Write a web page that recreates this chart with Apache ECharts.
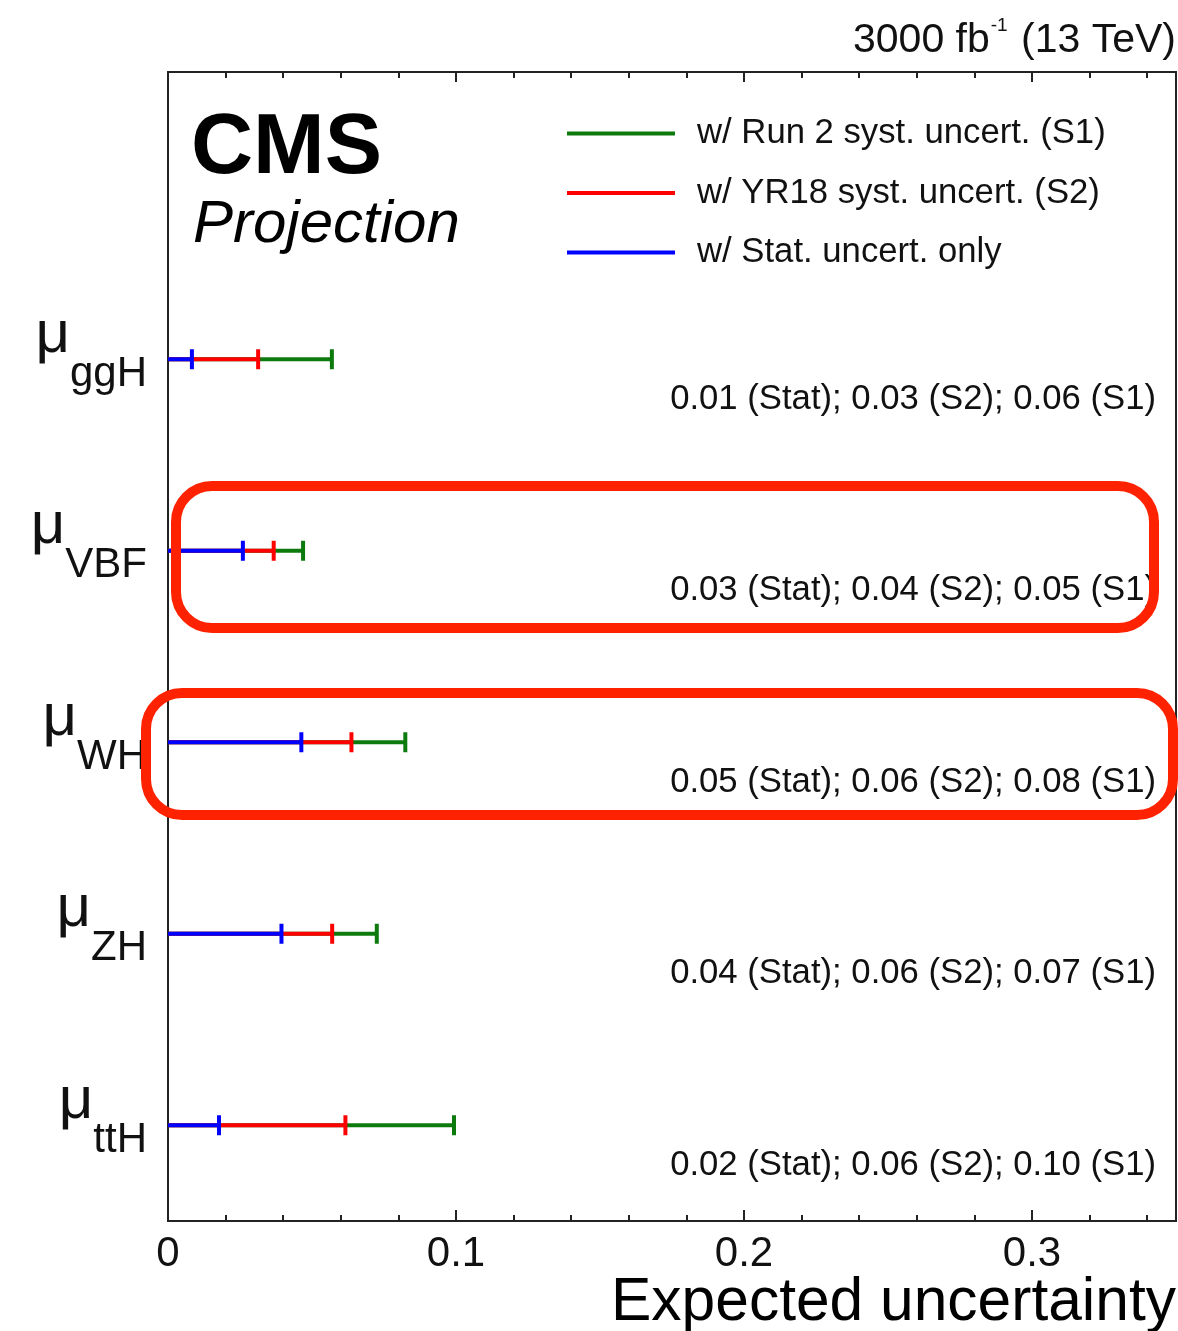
<!DOCTYPE html>
<html><head><meta charset="utf-8">
<script src="https://cdn.jsdelivr.net/npm/echarts@6/dist/echarts.min.js"></script>
<style>html,body{margin:0;padding:0;background:#fff}#c{width:1178px;height:1331px}</style>
</head><body><div id="c"></div>
<script>
// ---- data ----
const categories = ['ggH', 'VBF', 'WH', 'ZH', 'ttH'];
const statUnc = [0.0083, 0.0260, 0.0463, 0.0394, 0.0177];
const s2Unc   = [0.0313, 0.0367, 0.0637, 0.0570, 0.0616];
const s1Unc   = [0.0569, 0.0469, 0.0824, 0.0725, 0.0993];
const statText = ['0.01', '0.03', '0.05', '0.04', '0.02'];
const s2Text   = ['0.03', '0.04', '0.06', '0.06', '0.06'];
const s1Text   = ['0.06', '0.05', '0.08', '0.07', '0.10'];
const xTickLabels = ['0', '0.1', '0.2', '0.3'];
const seriesNames = ['w/ Run 2 syst. uncert. (S1)', 'w/ YR18 syst. uncert. (S2)', 'w/ Stat. uncert. only'];
const seriesColors = ['#0c7a0c', '#ff0000', '#0000ff'];

const FONT = '"Liberation Sans", Arial, Helvetica, sans-serif';
const chart = echarts.init(document.getElementById('c'), null, {renderer: 'canvas'});

function barSeries(name, values, color) {
  return {
    type: 'custom', name: name, xAxisIndex: 0, yAxisIndex: 0,
    itemStyle: {color: color},
    encode: {x: 0, y: 1},
    data: values.map((v, i) => [v, categories[i]]),
    renderItem: function (params, api) {
      const v = api.value(0), c = api.value(1);
      const p0 = api.coord([0, c]);
      const p1 = api.coord([v, c]);
      return {type: 'group', children: [
        {type: 'line', shape: {x1: p0[0], y1: p0[1], x2: p1[0], y2: p1[1]}, style: {stroke: color, lineWidth: 4}},
        {type: 'line', shape: {x1: p1[0], y1: p1[1] - 10, x2: p1[0], y2: p1[1] + 10}, style: {stroke: color, lineWidth: 4}}
      ]};
    }
  };
}

const textSeries = {
  type: 'custom', xAxisIndex: 0, yAxisIndex: 0, silent: true,
  encode: {x: 0, y: 1},
  data: categories.map((c, i) => [0, c, i]),
  renderItem: function (params, api) {
    const i = api.value(2);
    const p = api.coord([0, api.value(1)]);
    const cs = params.coordSys;
    return {type: 'text', x: cs.x + cs.width - 20, y: p[1] + 40,
      style: {text: statText[i] + ' (Stat); ' + s2Text[i] + ' (S2); ' + s1Text[i] + ' (S1)',
        fill: '#111', font: '34.7px ' + FONT, align: 'right', verticalAlign: 'middle'}};
  }
};

function xAxis(pos, interval, len, showLabel, extra) {
  return Object.assign({
    type: 'value', position: pos, min: 0, max: 0.35, interval: interval,
    axisLine: {show: false},
    axisTick: {show: true, inside: true, length: len, lineStyle: {color: '#222', width: 2}},
    splitLine: {show: false},
    axisLabel: {show: showLabel}
  }, extra || {});
}

const option = {
  backgroundColor: '#fff',
  animation: false,
  title: [
    {text: 'CMS', left: 191, top: 106, padding: 0,
      textStyle: {fontFamily: FONT, fontSize: 86, fontWeight: 'bold', color: '#000', lineHeight: 86}},
    {text: 'Projection', left: 193, top: 195, padding: 0,
      textStyle: {fontFamily: FONT, fontSize: 60, fontStyle: 'italic', fontWeight: 'normal', color: '#000', lineHeight: 60}},
    {text: '3000 fb{sup|-1} (13 TeV)', right: 2, top: 20, padding: 0,
      textStyle: {fontFamily: FONT, fontSize: 41, fontWeight: 'normal', color: '#111', lineHeight: 41,
        rich: {sup: {fontFamily: FONT, fontSize: 19, color: '#111', padding: [0, 2, 29, 1], lineHeight: 19}}}},
    {text: 'Expected uncertainty', right: 2, top: 1273, padding: 0,
      textStyle: {fontFamily: FONT, fontSize: 60.5, fontWeight: 'normal', color: '#000', lineHeight: 60}}
  ],
  legend: {
    orient: 'vertical', left: 567, top: 116, padding: 0,
    itemWidth: 108, itemHeight: 4, itemGap: 24.5, icon: 'rect',
    selectedMode: false,
    data: seriesNames,
    textStyle: {fontFamily: FONT, fontSize: 34.7, color: '#111', lineHeight: 34, padding: [0, 0, 0, 17]}
  },
  grid: {left: 168, right: 2, top: 72, bottom: 110, show: true, borderColor: '#222', borderWidth: 2,
    backgroundColor: 'transparent', containLabel: false, outerBoundsMode: 'none'},
  xAxis: [
    xAxis('bottom', 0.1, 11, true, {
      axisLabel: {show: true, showMaxLabel: false, margin: 12, color: '#111', fontFamily: FONT, fontSize: 42,
        formatter: v => xTickLabels[Math.round(v * 10)] || ''}
    }),
    xAxis('bottom', 0.02, 6, false),
    xAxis('top', 0.1, 10, false),
    xAxis('top', 0.02, 6, false)
  ],
  yAxis: {
    type: 'category', inverse: true, boundaryGap: true,
    data: [''].concat(categories),
    axisLine: {show: true, lineStyle: {color: '#222', width: 2}},
    axisTick: {show: false},
    splitLine: {show: false},
    axisLabel: {
      margin: 21, color: '#111',
      formatter: v => v ? '{mu|μ}{sub|' + v + '}' : '',
      rich: {
        mu: {fontFamily: FONT, fontSize: 60, lineHeight: 60, color: '#111', padding: [0, 0, 48, 0], verticalAlign: 'middle'},
        sub: {fontFamily: FONT, fontSize: 42, lineHeight: 42, color: '#111', padding: [30, 0, 0, 0], verticalAlign: 'middle'}
      }
    }
  },
  series: [
    barSeries(seriesNames[0], s1Unc, seriesColors[0]),
    barSeries(seriesNames[1], s2Unc, seriesColors[1]),
    barSeries(seriesNames[2], statUnc, seriesColors[2]),
    textSeries
  ],
  graphic: [
    {type: 'rect', z: 100, shape: {x: 176, y: 486, width: 978, height: 142, r: 36},
      style: {fill: 'none', stroke: '#ff2200', lineWidth: 10}},
    {type: 'rect', z: 100, shape: {x: 146, y: 693, width: 1027, height: 122, r: 36},
      style: {fill: 'none', stroke: '#ff2200', lineWidth: 10}}
  ]
};
chart.setOption(option);
</script>
</body></html>
